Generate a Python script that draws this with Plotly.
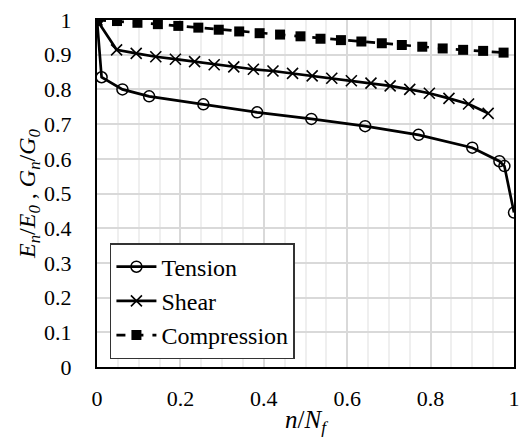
import plotly.graph_objects as go

# Tension (circles)
tension_x = [0, 0.011, 0.061, 0.125, 0.255, 0.384, 0.514, 0.643, 0.771, 0.900, 0.965, 0.977, 1.0]
tension_y = [1.0, 0.835, 0.800, 0.780, 0.757, 0.734, 0.715, 0.694, 0.669, 0.632, 0.593, 0.579, 0.445]

# Shear (x markers)
shear_x = [0, 0.047, 0.094, 0.141, 0.188, 0.234, 0.281, 0.328, 0.375, 0.422, 0.469,
           0.516, 0.563, 0.610, 0.657, 0.703, 0.750, 0.797, 0.844, 0.891, 0.938]
shear_y = [1.0, 0.914, 0.904, 0.894, 0.887, 0.880, 0.871, 0.865, 0.858, 0.853, 0.846,
           0.839, 0.832, 0.825, 0.818, 0.810, 0.800, 0.789, 0.774, 0.758, 0.731]

# Compression (squares)
comp_x = [0, 0.048, 0.097, 0.146, 0.195, 0.243, 0.292, 0.341, 0.390, 0.439, 0.488,
          0.536, 0.585, 0.634, 0.683, 0.731, 0.780, 0.829, 0.878, 0.926, 0.975]
comp_y = [1.0, 0.997, 0.992, 0.988, 0.983, 0.978, 0.972, 0.967, 0.962, 0.958, 0.953,
          0.946, 0.942, 0.938, 0.933, 0.928, 0.923, 0.918, 0.914, 0.911, 0.906]

x_ticks = [0, 0.2, 0.4, 0.6, 0.8, 1]
x_tick_labels = ["0", "0.2", "0.4", "0.6", "0.8", "1"]
y_ticks = [0, 0.1, 0.2, 0.3, 0.4, 0.5, 0.6, 0.7, 0.8, 0.9, 1]
y_tick_labels = ["0", "0.1", "0.2", "0.3", "0.4", "0.5", "0.6", "0.7", "0.8", "0.9", "1"]

FONT = "Liberation Serif"

fig = go.Figure()
fig.add_trace(go.Scatter(
    x=tension_x, y=tension_y, name="Tension", mode="lines+markers",
    line=dict(color="black", width=2.7),
    marker=dict(symbol="circle-open", size=11, color="black", line=dict(width=1.5)),
))
fig.add_trace(go.Scatter(
    x=shear_x, y=shear_y, name="Shear", mode="lines+markers",
    line=dict(color="black", width=2.7),
    marker=dict(symbol="x-thin-open", size=11, color="black", line=dict(width=1.6, color="black")),
))
fig.add_trace(go.Scatter(
    x=comp_x, y=comp_y, name="Compression", mode="lines+markers",
    line=dict(color="black", width=2.7, dash="dash"),
    marker=dict(symbol="square", size=10, color="black"),
))

fig.update_layout(
    width=527, height=439,
    margin=dict(l=97, r=7, t=20, b=72),
    paper_bgcolor="white", plot_bgcolor="white",
    font=dict(family=FONT, size=22, color="black"),
    showlegend=True,
    legend=dict(
        x=0.031, y=0.357, xanchor="left", yanchor="top",
        bgcolor="white", bordercolor="#333333", borderwidth=1.5,
        font=dict(family=FONT, size=24, color="black"),
        tracegroupgap=0, itemwidth=40,
    ),
    xaxis=dict(
        range=[0, 1], tickvals=x_ticks, ticktext=x_tick_labels,
        showgrid=True, gridcolor="#d9d9d9", gridwidth=1.5,
        minor=dict(dtick=0.05, showgrid=True, gridcolor="#efefef", gridwidth=1.5),
        showline=True, linecolor="black", linewidth=2, mirror=True,
        ticks="", ticklabelstandoff=11, zeroline=False,
        tickfont=dict(family=FONT, size=22),
        title=dict(text="<i>n</i>/<i>N<sub>f</sub></i>", font=dict(family=FONT, size=25), standoff=0),
    ),
    yaxis=dict(
        range=[0, 1], tickvals=y_ticks, ticktext=y_tick_labels,
        showgrid=True, gridcolor="#d9d9d9", gridwidth=1.5,
        showline=True, linecolor="black", linewidth=2, mirror=True,
        ticks="", ticklabelstandoff=19, zeroline=False,
        tickfont=dict(family=FONT, size=22),
        title=dict(text="<i>E<sub>n</sub></i>/<i>E<sub>0</sub></i> , <i>G<sub>n</sub></i>/<i>G<sub>0</sub></i>",
                   font=dict(family=FONT, size=24), standoff=2),
    ),
)

fig.write_html("out.html", config={"displayModeBar": False},
               post_script="document.body.style.margin='0';document.body.style.overflow='hidden';")
